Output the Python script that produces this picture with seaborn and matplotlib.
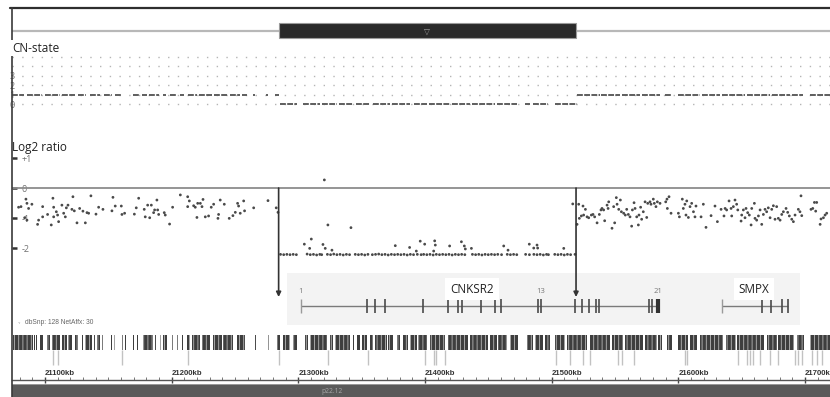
import matplotlib
matplotlib.use("Agg")
import matplotlib.pyplot as plt
from matplotlib.patches import Rectangle
from matplotlib.lines import Line2D
from matplotlib.ticker import MultipleLocator, FuncFormatter
import pandas as pd
import seaborn as sns

# ---- data (positions in kb on chrX) ----
view_start, view_end = 21074.0, 21719.8
breakpoints = [21284.5, 21519.3]

# copy-number state segments: (start kb, end kb, state)
cn_segments = [
    (21074.0, 21083.4, 1), (21085.8, 21097.6, 1), (21100.0, 21111.8, 1),
    (21113.4, 21123.7, 1), (21126.1, 21132.4, 1), (21135.5, 21143.4, 1),
    (21146.6, 21152.9, 1), (21155.3, 21160.0, 1), (21169.5, 21175.0, 1),
    (21176.6, 21180.5, 1), (21182.1, 21190.0, 1), (21193.2, 21195.5, 1),
    (21198.7, 21203.4, 1), (21206.6, 21209.8, 1), (21212.9, 21220.0, 1),
    (21221.6, 21231.9, 1), (21233.4, 21244.5, 1), (21246.1, 21254.0, 1),
    (21255.6, 21259.5, 1), (21264.2, 21265.8, 1), (21274.5, 21276.1, 1),
    (21281.6, 21284.8, 1),
    (21285.6, 21299.0, 0), (21303.7, 21317.1, 0), (21318.7, 21330.6, 0),
    (21332.1, 21343.2, 0), (21345.6, 21356.6, 0), (21359.0, 21372.4, 0),
    (21374.0, 21388.2, 0), (21391.4, 21401.6, 0), (21403.2, 21419.8, 0),
    (21421.4, 21435.6, 0), (21437.2, 21455.3, 0), (21456.9, 21472.7, 0),
    (21479.0, 21483.0, 0), (21485.3, 21497.2, 0), (21502.7, 21520.1, 0),
    (21520.1, 21538.2, 1), (21539.0, 21554.0, 1), (21555.6, 21569.8, 1),
    (21571.4, 21585.6, 1), (21589.5, 21595.1, 1), (21599.8, 21617.2, 1),
    (21618.8, 21633.0, 1), (21634.6, 21652.7, 1), (21654.3, 21672.5, 1),
    (21674.0, 21688.2, 1), (21689.8, 21698.5, 1), (21704.1, 21719.8, 1),
]
cn_rows = [0, 1, 2, 3, 4, 5]
cn_labels = [0, 1, 2, 3]

# log2 ratio probes: (kb, log2)
left_probes = [
    (21079.2, -0.64), (21081.1, -0.62), (21084.0, -0.99), (21085.0, -0.37), (21085.8, -0.51),
    (21085.8, -1.07), (21087.1, -0.68), (21089.7, -0.54), (21094.2, -1.21), (21095.0, -1.07),
    (21098.2, -0.62), (21098.2, -0.96), (21102.1, -0.88), (21105.0, -1.23), (21106.3, -0.34),
    (21106.9, -0.64), (21106.9, -0.96), (21109.0, -0.79), (21110.0, -0.90), (21110.8, -1.12),
    (21113.4, -0.57), (21114.8, -0.84), (21116.1, -0.96), (21116.9, -0.66), (21118.2, -0.57),
    (21122.1, -0.29), (21121.3, -0.71), (21123.2, -0.76), (21125.3, -1.16), (21127.4, -0.68),
    (21130.0, -0.77), (21131.9, -1.16), (21133.2, -0.82), (21134.5, -0.84), (21136.3, -0.26),
    (21140.3, -0.87), (21142.4, -0.64), (21145.8, -0.71), (21152.9, -0.76), (21153.7, -0.31),
    (21155.5, -0.60), (21160.3, -0.60), (21160.8, -0.88), (21162.9, -0.84), (21170.6, -0.87),
    (21172.1, -0.66), (21174.0, -0.34), (21178.4, -0.71), (21179.2, -0.96), (21181.1, -0.57),
    (21182.7, -0.99), (21184.0, -0.57), (21185.8, -0.82), (21186.6, -0.73), (21188.4, -0.40),
    (21189.0, -0.73), (21189.8, -0.88), (21194.2, -0.82), (21195.0, -0.90), (21198.4, -1.20),
    (21200.8, -0.64), (21206.9, -0.23), (21212.7, -0.29), (21212.7, -0.62), (21214.0, -0.43),
    (21217.4, -0.59), (21218.7, -0.64), (21220.0, -0.98), (21220.6, -0.51), (21222.7, -0.51),
    (21224.0, -0.62), (21224.8, -0.38), (21226.6, -0.96), (21229.2, -0.93), (21231.3, -0.64),
    (21233.2, -0.54), (21237.1, -0.88), (21236.6, -1.01), (21238.4, -0.40), (21241.6, -0.54),
    (21245.5, -1.01), (21248.4, -0.92), (21250.3, -0.81), (21252.1, -0.51), (21252.9, -0.60),
    (21254.2, -0.84), (21256.9, -0.43), (21257.6, -0.76), (21264.8, -0.66), (21276.1, -0.42),
    (21282.6, -0.66), (21284.0, -0.81),
]
deleted_probes = [
    (21320.6, 0.27), (21323.4, -1.23), (21341.6, -1.32), (21304.8, -1.87), (21309.0, -2.01),
    (21310.3, -1.70), (21319.5, -1.88), (21321.3, -2.01), (21326.6, -2.07), (21376.6, -1.92),
    (21387.9, -1.98), (21393.2, -2.10), (21396.3, -1.77), (21399.8, -1.87), (21407.7, -1.76),
    (21408.2, -1.90), (21406.9, -2.10), (21419.5, -1.93), (21428.8, -1.79), (21431.1, -1.93),
    (21431.9, -2.03), (21436.7, -2.01), (21462.2, -1.93), (21465.6, -2.07), (21482.4, -1.87),
    (21485.9, -2.00), (21488.5, -1.90), (21489.0, -2.00), (21509.6, -2.01), (21516.7, -0.53),
    (21286.0, -2.21), (21288.5, -2.22), (21291.0, -2.21), (21293.5, -2.22), (21296.0, -2.21),
    (21298.5, -2.22), (21307.0, -2.20), (21309.5, -2.22), (21312.0, -2.21), (21314.5, -2.23),
    (21317.0, -2.21), (21318.5, -2.22), (21323.0, -2.21), (21325.5, -2.22), (21328.0, -2.20),
    (21330.5, -2.22), (21333.0, -2.21), (21335.5, -2.23), (21338.0, -2.21), (21340.5, -2.22),
    (21345.0, -2.21), (21347.5, -2.22), (21350.0, -2.21), (21352.5, -2.23), (21355.0, -2.21),
    (21358.5, -2.22), (21361.0, -2.21), (21363.5, -2.20), (21366.0, -2.22), (21368.5, -2.21),
    (21371.0, -2.23), (21373.5, -2.21), (21376.0, -2.22), (21378.5, -2.21), (21381.0, -2.22),
    (21383.5, -2.21), (21386.0, -2.23), (21388.5, -2.21), (21391.0, -2.22), (21394.0, -2.21),
    (21397.0, -2.22), (21399.0, -2.21), (21401.5, -2.22), (21404.0, -2.21), (21406.5, -2.23),
    (21409.0, -2.21), (21411.5, -2.22), (21414.0, -2.21), (21416.5, -2.22), (21419.0, -2.21),
    (21421.5, -2.23), (21424.0, -2.21), (21426.5, -2.22), (21429.0, -2.21), (21431.5, -2.22),
    (21437.5, -2.21), (21440.0, -2.22), (21442.5, -2.21), (21445.0, -2.23), (21447.5, -2.21),
    (21450.0, -2.22), (21452.5, -2.21), (21455.0, -2.22), (21457.5, -2.21), (21460.5, -2.22),
    (21465.0, -2.21), (21467.5, -2.22), (21470.0, -2.21), (21472.5, -2.22), (21479.5, -2.21),
    (21482.5, -2.22), (21486.0, -2.21), (21488.5, -2.22), (21491.0, -2.21), (21493.5, -2.23),
    (21496.0, -2.21), (21497.5, -2.22), (21502.5, -2.21), (21505.0, -2.22), (21507.5, -2.21),
    (21510.0, -2.23), (21512.5, -2.21), (21515.0, -2.22), (21518.5, -2.21),
]
right_probes = [
    (21520.1, -1.21), (21521.4, -0.54), (21521.9, -1.01), (21523.5, -0.93), (21524.8, -0.60),
    (21525.3, -0.90), (21526.7, -0.71), (21528.0, -0.96), (21529.3, -0.99), (21531.4, -0.90),
    (21532.7, -0.88), (21534.0, -0.96), (21535.9, -1.16), (21537.7, -0.88), (21539.0, -0.73),
    (21539.8, -0.68), (21541.1, -0.73), (21541.9, -1.09), (21543.8, -0.57), (21544.6, -0.68),
    (21545.1, -0.46), (21547.7, -1.34), (21549.0, -0.62), (21549.8, -1.16), (21551.1, -0.32),
    (21551.7, -0.54), (21553.0, -0.71), (21554.3, -0.40), (21555.1, -0.79), (21556.9, -0.84),
    (21558.2, -0.90), (21559.3, -0.71), (21560.6, -0.88), (21561.9, -0.96), (21563.2, -1.27),
    (21563.8, -0.73), (21565.1, -0.49), (21565.9, -0.68), (21567.2, -0.96), (21568.5, -1.23),
    (21569.0, -0.90), (21570.3, -0.64), (21571.1, -1.04), (21572.4, -0.79), (21573.8, -0.46),
    (21575.1, -0.98), (21575.9, -0.51), (21577.7, -0.46), (21578.5, -0.54), (21580.3, -0.37),
    (21581.1, -0.51), (21582.4, -0.62), (21583.5, -0.46), (21585.6, -0.51), (21590.1, -0.46),
    (21591.1, -0.37), (21592.7, -0.29), (21591.4, -0.68), (21594.3, -0.84), (21600.1, -0.84),
    (21600.9, -0.96), (21603.2, -0.37), (21604.0, -0.68), (21605.3, -0.54), (21606.1, -0.90),
    (21606.7, -0.43), (21608.0, -0.98), (21609.3, -0.62), (21610.6, -0.51), (21612.0, -0.79),
    (21613.2, -0.96), (21614.0, -0.60), (21618.0, -0.96), (21619.8, -0.54), (21621.9, -1.31),
    (21625.9, -0.92), (21629.0, -0.60), (21630.9, -1.12), (21633.8, -0.71), (21636.1, -0.93),
    (21637.0, -0.68), (21638.2, -0.73), (21640.1, -0.43), (21641.7, -0.68), (21642.2, -0.93),
    (21643.5, -0.62), (21644.8, -0.40), (21646.1, -0.54), (21647.0, -0.73), (21649.6, -1.10),
    (21650.1, -0.90), (21651.4, -0.73), (21652.7, -0.99), (21653.5, -0.68), (21654.8, -0.82),
    (21656.1, -0.90), (21657.5, -1.23), (21658.0, -0.68), (21660.1, -0.51), (21660.6, -1.01),
    (21661.9, -1.07), (21663.3, -0.93), (21664.6, -0.73), (21665.9, -1.21), (21667.2, -0.88),
    (21668.5, -0.71), (21669.8, -0.79), (21671.1, -0.66), (21672.5, -0.99), (21673.8, -0.71),
    (21675.1, -0.59), (21676.4, -1.04), (21677.7, -0.62), (21679.0, -1.01), (21680.4, -1.07),
    (21681.7, -0.88), (21683.0, -0.79), (21685.1, -0.68), (21686.4, -0.81), (21687.7, -0.93),
    (21689.6, -1.04), (21690.9, -1.12), (21692.2, -0.90), (21694.8, -0.71), (21696.1, -0.79),
    (21696.9, -0.26), (21697.5, -0.92), (21704.8, -0.71), (21706.2, -0.68), (21707.5, -0.48),
    (21709.3, -0.48), (21708.5, -0.77), (21712.0, -1.21), (21712.7, -1.03), (21714.6, -0.99),
    (21715.9, -0.90), (21717.2, -0.84),
]
log2_ticks = [1, 0, -1, -2]
log2_ticklabels = ["+1", "0", "-1", "-2"]

# genes
gene_names = ["CNKSR2", "SMPX"]
gene_label_kb = [21420.0, 21647.5]
gene_exons = [
    [21302.1, 21354.3, 21360.6, 21368.5, 21398.5, 21418.2, 21426.1, 21429.3, 21444.3,
     21455.3, 21460.1, 21489.3, 21491.7, 21518.5, 21524.0, 21529.6, 21535.1, 21537.5,
     21577.0, 21579.3, 21584.1],
    [21634.6, 21666.1, 21673.3, 21682.0, 21686.7],
]
numbered_exons = [1, 13, 21]

# dbSNP / NetAffx track: blocks of dense markers, plus sparse light marks below
snp_blocks = [
    (21074.8, 21090.6), (21091.7, 21092.5), (21093.3, 21094.1), (21096.1, 21098.4),
    (21101.6, 21104.0), (21105.6, 21111.9), (21113.5, 21117.4), (21118.2, 21121.4),
    (21123.7, 21126.1), (21129.3, 21130.0), (21131.6, 21137.1), (21139.1, 21139.9),
    (21141.1, 21143.5), (21145.4, 21146.2), (21152.5, 21153.3), (21154.9, 21155.7),
    (21160.5, 21161.3), (21162.9, 21163.7), (21169.2, 21170.0), (21172.4, 21173.2),
    (21177.8, 21185.6), (21186.8, 21187.6), (21190.7, 21191.5), (21193.5, 21196.6),
    (21200.1, 21200.9), (21204.0, 21204.8), (21208.0, 21208.8), (21212.3, 21214.6),
    (21216.2, 21222.5), (21224.1, 21230.4), (21232.7, 21239.9), (21240.6, 21248.5),
    (21251.7, 21258.0), (21265.5, 21266.3), (21275.8, 21276.6), (21283.3, 21285.7),
    (21288.1, 21293.6), (21296.0, 21299.1), (21305.4, 21307.8), (21309.4, 21322.8),
    (21325.2, 21327.6), (21329.1, 21341.0), (21343.0, 21343.8), (21346.5, 21348.9),
    (21350.5, 21354.4), (21356.8, 21359.2), (21360.7, 21370.2), (21371.0, 21374.9),
    (21378.1, 21380.5), (21382.9, 21386.8), (21388.4, 21393.9), (21394.7, 21401.8),
    (21404.2, 21416.1), (21418.4, 21434.2), (21435.8, 21450.0), (21451.6, 21457.1),
    (21457.9, 21465.0), (21467.4, 21473.7), (21480.8, 21485.6), (21487.2, 21493.5),
    (21495.1, 21499.0), (21502.9, 21510.9), (21512.4, 21528.2), (21530.6, 21546.4),
    (21548.0, 21556.7), (21558.2, 21572.5), (21574.0, 21583.5), (21584.3, 21587.5),
    (21591.4, 21595.4), (21600.1, 21608.0), (21609.6, 21615.1), (21617.5, 21635.7),
    (21637.3, 21645.2), (21646.7, 21667.3), (21670.4, 21678.3), (21679.1, 21691.0),
    (21694.1, 21698.9), (21704.4, 21720.2),
]
snp_sparse = [
    21106.3, 21110.3, 21160.8, 21213.0, 21284.8, 21323.5, 21355.1, 21400.1, 21407.2,
    21408.8, 21415.9, 21503.5, 21514.6, 21524.8, 21530.4, 21552.5, 21555.6, 21565.1,
    21605.4, 21607.0, 21647.3, 21654.3, 21656.7, 21659.1, 21664.6, 21672.5, 21678.8,
    21692.3, 21694.6, 21697.8, 21705.7, 21709.6, 21713.6,
]
band_name = "p22.12"
band_label_kb = 21326.6

# ---- figure ----
sns.set_theme(style="white")
plt.rcParams["font.family"] = ["Open Sans", "DejaVu Sans"]
plt.rcParams["hatch.linewidth"] = 0.5

W, H = 830, 397
fig = plt.figure(figsize=(W / 100, H / 100), dpi=100)
fig.patch.set_facecolor("white")


def panel(top, bottom, left=12, right=W):
    ax = fig.add_axes([left / W, 1 - bottom / H, (right - left) / W, (bottom - top) / H])
    ax.patch.set_alpha(0)
    for s in ax.spines.values():
        s.set_visible(False)
    ax.tick_params(left=False, bottom=False, labelleft=False, labelbottom=False)
    ax.grid(False)
    ax.set_xlim(view_start, view_end)
    return ax


# frame
fig.add_artist(Line2D([10 / W, 1], [1 - 8 / H] * 2, color="#2e2e2e", lw=1.6))
fig.add_artist(Line2D([12 / W] * 2, [0, 1 - 8 / H], color="#3a3a3a", lw=1.2))

# ideogram strip with selected region
ax_i = panel(20, 42)
ax_i.set_ylim(0, 1)
ax_i.axhline(0.5, color="#b8b8b8", lw=1.6, zorder=1)
ax_i.add_patch(Rectangle((breakpoints[0], 0.17), breakpoints[1] - breakpoints[0], 0.68,
                         facecolor="#2a2a2a", edgecolor="#9a9a9a", lw=0.8, zorder=2))
ax_i.text(sum(breakpoints) / 2, 0.5, "\u25BD", ha="center", va="center", zorder=3,
          fontsize=5.5, color="#a0a0a0", family="DejaVu Sans")

# CN-state
ax_c = panel(50, 112)
ax_c.set_ylim(-0.85, 5.74)
for r in cn_rows:
    ax_c.axhline(r, color="#b5b5b5", lw=1.0, ls=(0, (1, 6)))
seg = pd.DataFrame(cn_segments, columns=["start", "end", "state"])
ax_c.hlines(seg["state"], seg["start"], seg["end"], color="#5e5e5e", lw=1.4,
            linestyles=(0, (3, 0.7)))
ax_c.set_yticks(cn_labels)
ax_c.set_yticklabels([str(v) for v in cn_labels])
ax_c.tick_params(axis="y", left=False, labelleft=True, labelsize=6.5,
                 labelcolor="#707070", pad=-4.3)
for t in ax_c.get_yticklabels():
    t.set_horizontalalignment("left")
    t.set_bbox(dict(facecolor="white", edgecolor="none", pad=0.3, alpha=0.8))
fig.text(12 / W, 1 - 48 / H, "CN-state", fontsize=8.5, color="#222", va="center",
         bbox=dict(facecolor="white", edgecolor="none", pad=1))

# log2 ratio
probes = pd.DataFrame(left_probes + deleted_probes + right_probes, columns=["kb", "log2"])
ax_l = panel(140, 300)
ax_l.axhline(0, color="#8c8c8c", lw=1.3, zorder=1)
sns.scatterplot(data=probes, x="kb", y="log2", ax=ax_l, s=4, color="#4a4a4a",
                edgecolor="none", linewidth=0, zorder=3)
ax_l.set_xlabel("")
ax_l.set_ylabel("")
ax_l.set_xlim(view_start, view_end)
ax_l.set_ylim(-3.73, 1.6)
ax_l.set_yticks(log2_ticks)
ax_l.set_yticklabels(log2_ticklabels)
ax_l.tick_params(axis="y", left=True, labelleft=True, direction="in", length=3.8,
                 width=1.8, color="#333", labelsize=6.5, labelcolor="#707070", pad=-7.2)
ax_l.tick_params(axis="x", bottom=False, labelbottom=False)
for t in ax_l.get_yticklabels():
    t.set_horizontalalignment("left")
    t.set_zorder(4)
for bp in breakpoints:
    ax_l.annotate("", xy=(bp, -3.63), xytext=(bp, 0),
                  arrowprops=dict(arrowstyle="-|>", color="#333", lw=1.2,
                                  mutation_scale=7, shrinkA=0, shrinkB=0))
fig.text(12 / W, 1 - 147 / H, "Log2 ratio", fontsize=8.5, color="#222", va="center")

# gene track
ax_g = panel(273, 325)
ax_g.set_ylim(0, 1)
ax_g.set_zorder(ax_l.get_zorder() - 1)
ax_g.axvspan(gene_exons[0][0] - 11, gene_exons[-1][-1] + 9.5, color="#f3f3f3", lw=0)
for name, lab_kb, exons in zip(gene_names, gene_label_kb, gene_exons):
    ax_g.hlines(0.365, exons[0], exons[-1], color="#7a7a7a", lw=1.0)
    ax_g.vlines(exons[:1], 0.23, 0.5, color="#9a9a9a", lw=1.0)
    ax_g.vlines(exons[1:], 0.23, 0.5, color="#4a4a4a", lw=1.2)
    ax_g.text(lab_kb, 0.69, name, fontsize=8.5, color="#222", va="center", ha="left",
              bbox=dict(facecolor="white", edgecolor="none", pad=3.5))
ax_g.vlines(gene_exons[0][-1], 0.23, 0.5, color="#333", lw=3)
for n in numbered_exons:
    ax_g.text(gene_exons[0][n - 1], 0.635, str(n), fontsize=5.5, color="#777",
              ha="center", va="center")

fig.text(17 / W, 1 - 322 / H, ".,", fontsize=5, color="#aaa", va="center")
fig.text(25 / W, 1 - 323 / H, "dbSnp: 128 NetAffx: 30", fontsize=4.8, color="#666",
         va="center", family="Liberation Sans")

# SNP track
ax_s = panel(333, 368)
ax_s.set_ylim(0, 1)
blocks = pd.DataFrame(snp_blocks, columns=["start", "end"])
ax_s.bar(x=blocks["start"], height=0.43, width=blocks["end"] - blocks["start"],
         bottom=0.514, align="edge", color="#3e3e3e", edgecolor="#d0d0d0",
         linewidth=0, hatch="||||")
ax_s.vlines(snp_sparse, 0.086, 0.514, color="#c2c2c2", lw=1.0)

# ruler
ax_r = panel(380, 384)
ax_r.spines["top"].set_visible(True)
ax_r.spines["top"].set_color("#555")
ax_r.spines["top"].set_linewidth(1.0)
ax_r.xaxis.set_ticks_position("top")
ax_r.xaxis.set_major_locator(MultipleLocator(100))
ax_r.xaxis.set_minor_locator(MultipleLocator(10))
ax_r.xaxis.set_major_formatter(FuncFormatter(lambda v, p: f"{v:.0f}kb"))
ax_r.tick_params(axis="x", which="major", top=True, labeltop=True, bottom=False,
                 labelbottom=False, direction="inout", length=5, width=1.0, color="#444",
                 labelsize=5.6, labelcolor="#333", pad=0)
ax_r.tick_params(axis="x", which="minor", top=True, bottom=False, direction="out",
                 length=2, width=0.7, color="#777")
for t in ax_r.get_xticklabels():
    t.set_horizontalalignment("left")
    t.set_family("Liberation Sans")
    t.set_fontweight("bold")

# chromosome band
ax_b = panel(384, 397)
ax_b.set_ylim(0, 1)
ax_b.patch.set_alpha(1)
ax_b.patch.set_facecolor("#5a5a5a")
ax_b.axhline(0.97, color="#a5a5a5", lw=1.2)
ax_b.text(band_label_kb, 0.4, band_name, fontsize=4.8, color="#a8a8a8",
          ha="center", va="center")

fig.savefig("out.png", dpi=100, facecolor=fig.get_facecolor())
